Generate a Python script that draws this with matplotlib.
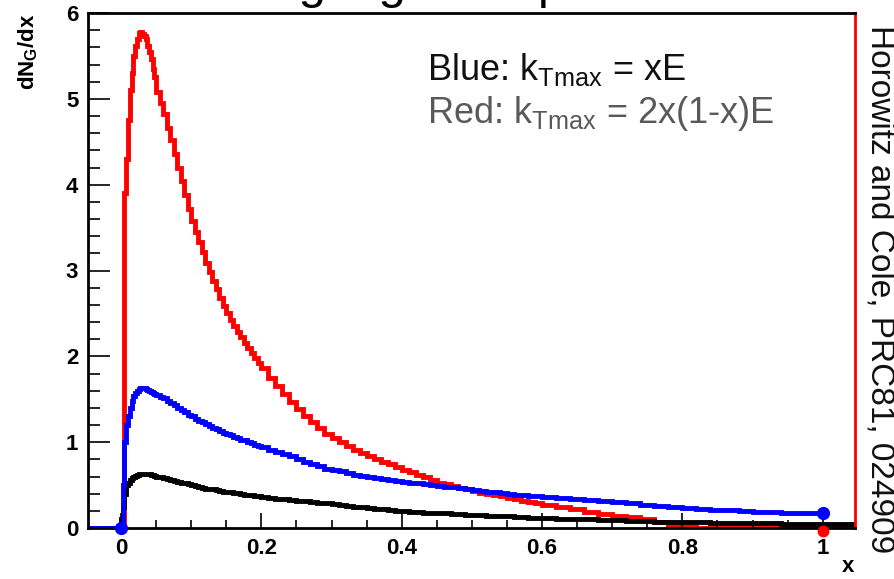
import numpy as np
import matplotlib.pyplot as plt
from matplotlib.ticker import MultipleLocator, FixedLocator, FixedFormatter

plt.rcParams['font.family'] = ['Liberation Sans', 'DejaVu Sans']
plt.rcParams['mathtext.fontset'] = 'custom'
plt.rcParams['mathtext.rm'] = 'Liberation Sans'
plt.rcParams['mathtext.it'] = 'Liberation Sans:italic'
plt.rcParams['mathtext.bf'] = 'Liberation Sans:bold'

# bin edges: fine near the peak, coarser in the tail
edges = np.concatenate([[-0.047],
                        np.linspace(0.0, 0.0475, 20),
                        np.linspace(0.05, 0.195, 30),
                        np.linspace(0.20, 0.59, 40),
                        np.linspace(0.60, 0.98, 20),
                        [1.0, 1.047]])

# kTmax = 2x(1-x)E
red_vals = [0.0,
            # 0 - 0.05
            0, 0, 3.9, 4.3, 4.75, 5.1, 5.3, 5.5, 5.62, 5.7,
            5.77, 5.78, 5.76, 5.73, 5.7, 5.62, 5.55, 5.46, 5.35, 5.25,
            # 0.05 - 0.20
            5.08, 4.95, 4.82, 4.66, 4.52, 4.36, 4.2, 4.04, 3.88, 3.72,
            3.58, 3.45, 3.33, 3.21, 3.09, 2.98, 2.88, 2.78, 2.68, 2.59,
            2.5, 2.42, 2.35, 2.28, 2.22, 2.16, 2.1, 2.04, 1.98, 1.92,
            # 0.20 - 0.60
            1.86, 1.75, 1.65, 1.56, 1.47, 1.39, 1.31, 1.24, 1.17, 1.1,
            1.05, 1.0, 0.96, 0.91, 0.87, 0.84, 0.8, 0.77, 0.74, 0.71,
            0.68, 0.65, 0.62, 0.59, 0.56, 0.53, 0.51, 0.49, 0.47, 0.45,
            0.43, 0.41, 0.4, 0.38, 0.37, 0.35, 0.34, 0.32, 0.3, 0.29,
            # 0.60 - 1.00
            0.27, 0.25, 0.22, 0.19, 0.16, 0.14, 0.13, 0.11, 0.07, 0.03,
            0.03, 0, 0, 0, 0, 0, 0, 0, 0, 0,
            0.0]

# kTmax = xE  (histogram stops at x = 1)
blue_vals = [0.0,
             0, 0.5, 1.0, 1.2, 1.3, 1.4, 1.48, 1.54, 1.57, 1.6,
             1.62, 1.63, 1.63, 1.63, 1.62, 1.61, 1.6, 1.59, 1.57, 1.56,
             1.55, 1.53, 1.51, 1.48, 1.46, 1.43, 1.4, 1.37, 1.35, 1.32,
             1.3, 1.27, 1.25, 1.23, 1.21, 1.19, 1.17, 1.15, 1.13, 1.11,
             1.1, 1.08, 1.06, 1.05, 1.03, 1.02, 1.0, 0.99, 0.97, 0.96,
             0.94, 0.91, 0.88, 0.86, 0.84, 0.8, 0.77, 0.74, 0.72, 0.69,
             0.67, 0.66, 0.64, 0.62, 0.61, 0.6, 0.58, 0.57, 0.56, 0.55,
             0.54, 0.53, 0.52, 0.51, 0.5, 0.49, 0.48, 0.48, 0.47, 0.45,
             0.44, 0.43, 0.42, 0.42, 0.41, 0.4, 0.39, 0.38, 0.37, 0.37,
             0.36, 0.35, 0.34, 0.33, 0.31, 0.3, 0.29, 0.27, 0.26, 0.25,
             0.23, 0.22, 0.21, 0.21, 0.2, 0.19, 0.19, 0.18, 0.18, 0.18]

black_vals = [0.0,
              0.1, 0.25, 0.4, 0.5, 0.52, 0.56, 0.58, 0.6, 0.61, 0.62,
              0.63, 0.63, 0.63, 0.63, 0.63, 0.63, 0.63, 0.62, 0.62, 0.61,
              0.6, 0.59, 0.58, 0.57, 0.56, 0.55, 0.54, 0.53, 0.52, 0.51,
              0.5, 0.49, 0.48, 0.47, 0.46, 0.455, 0.45, 0.44, 0.43, 0.425,
              0.42, 0.415, 0.41, 0.405, 0.4, 0.39, 0.39, 0.38, 0.37, 0.37,
              0.36, 0.35, 0.34, 0.34, 0.33, 0.32, 0.31, 0.3, 0.29, 0.29,
              0.28, 0.27, 0.26, 0.25, 0.24, 0.23, 0.22, 0.22, 0.21, 0.2,
              0.2, 0.19, 0.19, 0.18, 0.18, 0.17, 0.17, 0.165, 0.16, 0.155,
              0.155, 0.15, 0.145, 0.14, 0.14, 0.135, 0.13, 0.125, 0.12, 0.12,
              0.115, 0.11, 0.10, 0.10, 0.095, 0.09, 0.08, 0.08, 0.075, 0.07,
              0.07, 0.065, 0.06, 0.06, 0.06, 0.055, 0.055, 0.05, 0.05, 0.045,
              0.045]

# end points
blue_pts_x = [0.0, 1.0]
blue_pts_y = [0.0, 0.18]
red_pts_x = [1.0]
red_pts_y = [-0.03]

x_ticks = [0, 0.2, 0.4, 0.6, 0.8, 1.0]
x_labels = ['0', '0.2', '0.4', '0.6', '0.8', '1']

fig = plt.figure(figsize=(8.95, 5.79), dpi=100)
ax = fig.add_axes([88/895, 51/579, 767/895, 515/579])

lw = 3.5
ax.stairs(red_vals, edges, color='#ff0000', lw=lw, baseline=None)
ax.stairs(black_vals, edges, color='black', lw=lw, baseline=None)
ax.stairs(blue_vals, edges[:-1], color='#0000ff', lw=lw, baseline=None)
ax.plot(blue_pts_x, blue_pts_y, 'o', color='#0000ff', ms=8.5, clip_on=False, zorder=4)
ax.plot(red_pts_x, red_pts_y, 'o', color='#ff0000', ms=7.5, clip_on=False, zorder=4)

ax.set_xlim(-0.047, 1.046)
ax.set_ylim(0, 6)

ax.xaxis.set_major_locator(FixedLocator(x_ticks))
ax.xaxis.set_major_formatter(FixedFormatter(x_labels))
ax.xaxis.set_minor_locator(MultipleLocator(0.05))
ax.yaxis.set_major_locator(MultipleLocator(1))
ax.yaxis.set_minor_locator(MultipleLocator(0.2))

ax.tick_params(axis='both', which='both', direction='in', width=1.2,
               top=False, right=False, labelsize=16, colors='black')
ax.tick_params(axis='x', which='major', length=11, pad=7)
ax.tick_params(axis='x', which='minor', length=6)
ax.tick_params(axis='y', which='major', length=16, pad=7)
ax.tick_params(axis='y', which='minor', length=8.5)
for lab in ax.get_xticklabels() + ax.get_yticklabels():
    lab.set_fontweight('bold')

for side in ['left', 'bottom', 'top']:
    ax.spines[side].set_linewidth(2)
ax.spines['right'].set_color('#ff0000')
ax.spines['right'].set_linewidth(2)

fig.text(427/895, 1 - 80/579, r'Blue: k$_{\mathrm{Tmax}}$ = xE',
         fontsize=26, color='#111111', va='baseline', ha='left')
fig.text(427/895, 1 - 123/579, r'Red: k$_{\mathrm{Tmax}}$ = 2x(1-x)E',
         fontsize=26, color='#595959', va='baseline', ha='left')

fig.text(880/895, 1 - 25/579, 'Horowitz and Cole, PRC81, 024909',
         fontsize=24, rotation=-90, ha='center', va='top', color='#111111')

# title sits above the canvas, only its descenders reach into view
fig.text(0.527, 1.0035, 'Single gluon spectrum', fontsize=35.6,
         ha='center', va='baseline')

fig.text(28/895, 1 - 13/579, r'$\mathbf{dN_{G}/dx}$', fontsize=16,
         rotation=90, ha='center', va='top')
fig.text(848/895, 1 - 567/579, 'x', fontsize=16, fontweight='bold',
         ha='center', va='center')

fig.savefig('out.png', dpi=100)
